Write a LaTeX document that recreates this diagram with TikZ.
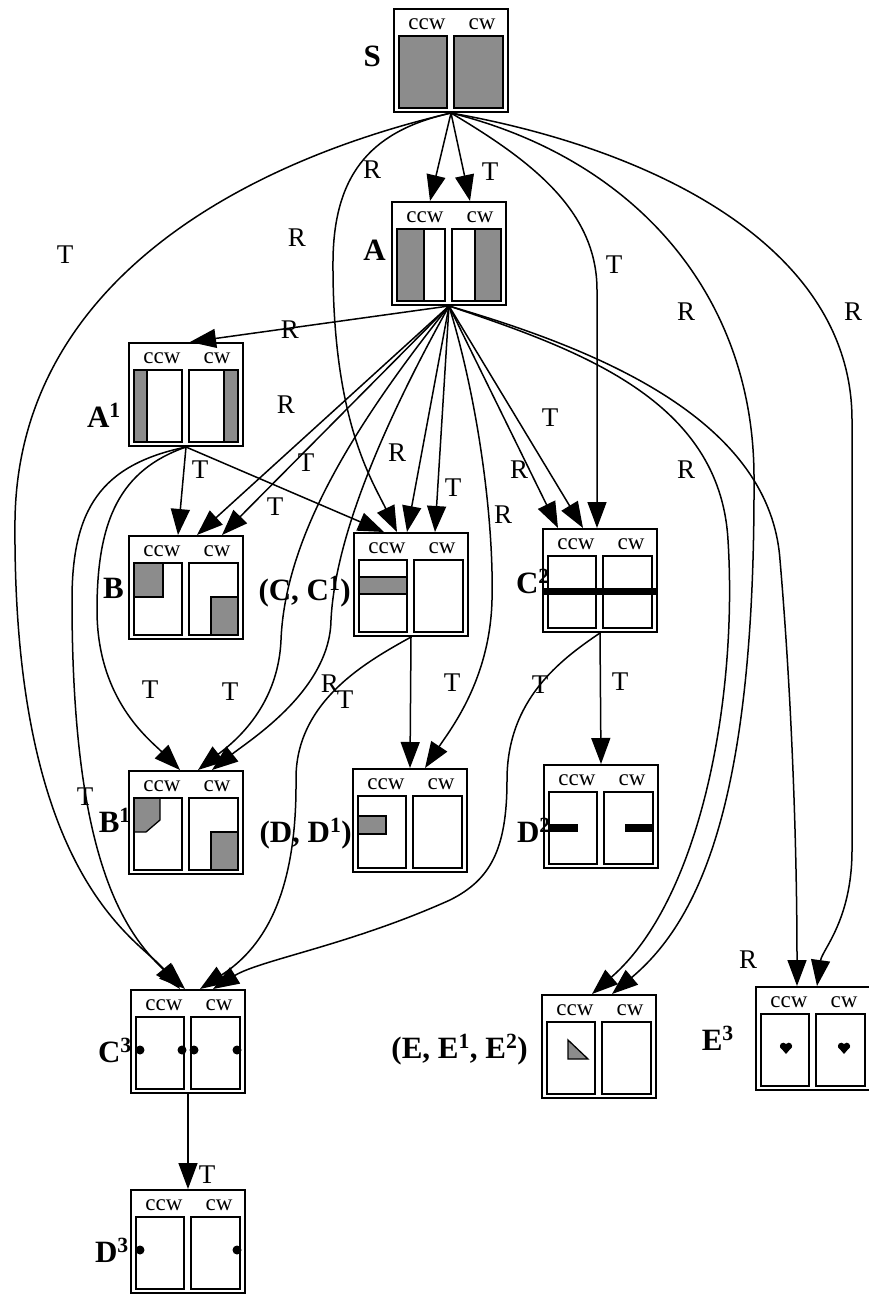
\documentclass[tikz,border=0pt]{standalone}
\usepackage{fontspec}
\setmainfont{Liberation Serif}
\usetikzlibrary{arrows.meta, calc}

\tikzset{
  sbox/.style={draw, line width=2pt, minimum width=114pt, minimum height=103pt, inner sep=0pt},
  panel/.style={draw, line width=1.8pt},
  grayfill/.style={fill=black!45, draw, line width=1.3pt},
  celltxt/.style={font=\fontsize{23}{23}\selectfont, inner sep=0pt},
  lab/.style={font=\fontsize{31}{31}\selectfont\bfseries, inner sep=0pt, anchor=base east},
  elab/.style={font=\fontsize{27}{27}\selectfont, inner sep=0pt},
  trans/.style={-{Triangle[length=26pt,width=19pt]}, line width=1.5pt}
}

% one state: name, left, top, contents
\newcommand{\statebox}[4]{%
  \begin{scope}[shift={(#2,#3)}]
    \node[sbox] (#1) at (57,51.5) {};
    \node[celltxt] (#1-ccw) at (33,15) {ccw};
    \node[celltxt] (#1-cw) at (88,15) {cw};
    #4
    \draw[panel] (5,27) rectangle (53,99);
    \draw[panel] (60,27) rectangle (109,99);
  \end{scope}}
\newcommand{\heartmark}[2]{%
  \fill (#1-2.8,#2-2) circle (3.3pt);
  \fill (#1+2.8,#2-2) circle (3.3pt);
  \fill (#1-6,#2-1) -- (#1+6,#2-1) -- (#1,#2+6) -- cycle;}

\begin{document}
\begin{tikzpicture}[x=1pt, y=-1pt]
\useasboundingbox (0,0) rectangle (869,1295);

% states
\statebox{S}{394}{9}{%
  \filldraw[grayfill] (5,27) rectangle (53,99);
  \filldraw[grayfill] (60,27) rectangle (109,99);}
\statebox{A}{392}{202}{%
  \filldraw[grayfill] (5,27) rectangle (32,99);
  \filldraw[grayfill] (83,27) rectangle (109,99);}
\statebox{A1}{129}{343}{%
  \filldraw[grayfill] (5,27) rectangle (18,99);
  \filldraw[grayfill] (95,27) rectangle (109,99);}
\statebox{B}{129}{536}{%
  \filldraw[grayfill] (5,27) rectangle (34,61);
  \filldraw[grayfill] (82,61) rectangle (109,99);}
\statebox{C}{354}{533}{%
  \filldraw[grayfill] (5,44) rectangle (53,61);}
\statebox{C2}{543}{529}{%
  \fill (1,59) rectangle (115,66);}
\statebox{B1}{129}{771}{%
  \filldraw[grayfill] (5,27) -- (31,27) -- (31,49) -- (17,61) -- (5,61) -- cycle;
  \filldraw[grayfill] (82,61) rectangle (109,99);}
\statebox{D}{353}{769}{%
  \filldraw[grayfill] (5,47) rectangle (33,65);}
\statebox{D2}{544}{765}{%
  \fill (5,59) rectangle (34,67);
  \fill (81,59) rectangle (109,67);}
\statebox{C3}{131}{990}{%
  \fill (9,60) circle (4.5pt); \fill (51,60) circle (4.5pt);
  \fill (63,60) circle (4.5pt); \fill (106,60) circle (4.5pt);}
\statebox{E}{542}{995}{%
  \filldraw[grayfill] (26,45) -- (26,64) -- (46,64) -- cycle;}
\statebox{E3}{756}{987}{\heartmark{30}{61}\heartmark{88}{61}}
\statebox{D3}{131}{1190}{%
  \fill (9,60) circle (4.5pt); \fill (106,60) circle (4.5pt);}

% state names
\node[lab] (lS) at (381,67) {S};
\node[lab] (lA) at (386,260) {A};
\node[lab] (lA1) at (121,427) {A\textsuperscript{1}};
\node[lab] (lB) at (124,598) {B};
\node[lab] (lC) at (351,600) {(C, C\textsuperscript{1})};
\node[lab] (lC2) at (550,593) {C\textsuperscript{2}};
\node[lab] (lB1) at (131,832) {B\textsuperscript{1}};
\node[lab] (lD) at (352,842) {(D, D\textsuperscript{1})};
\node[lab] (lD2) at (551,842) {D\textsuperscript{2}};
\node[lab] (lC3) at (132,1062) {C\textsuperscript{3}};
\node[lab] (lE) at (528,1058) {(E, E\textsuperscript{1}, E\textsuperscript{2})};
\node[lab] (lE3) at (734,1050) {E\textsuperscript{3}};
\node[lab] (lD3) at (129,1262) {D\textsuperscript{3}};

% transitions from S
\draw[trans] (S.south) -- ($(A.north)+(-19,0)$) node[elab] at (372,170) {R};
\draw[trans] (S.south) -- ($(A.north)+(21,0)$) node[elab] at (490,172) {T};
\draw[trans] (S.south) .. controls (230,165) and (18,290) .. (15,520)
  .. controls (12,880) and (140,940) .. ($(C3.north)+(-8,0)$) node[elab] at (65,255) {T};
\draw[trans] (S.south) .. controls (375,130) and (334,170) .. (333,260)
  .. controls (332,420) and (372,480) .. ($(C.north)+(-14,0)$) node[elab] at (297,238) {R};
\draw[trans] (S.south) .. controls (530,160) and (597,210) .. (597,290)
  -- ($(C2.north)+(-3,0)$) node[elab] at (614,265) {T};
\draw[trans] (S.south) .. controls (640,160) and (755,300) .. (754,480)
  .. controls (755,800) and (700,920) .. ($(E.north)+(13,0)$) node[elab] at (686,312) {R};
\draw[trans] (S.south) .. controls (660,150) and (852,250) .. (852,420) -- (852,850)
  .. controls (852,920) and (822,950) .. ($(E3.north)+(4,0)$) node[elab] at (853,312) {R};

% transitions from A
\draw[trans] (A.south) -- ($(A1.north)+(4,0)$) node[elab] at (290,330) {R};
\draw[trans] (A.south) -- ($(B.north)+(11,0)$) node[elab] at (306,463) {T};
\draw[trans] (A.south) -- ($(B.north)+(36,0)$) node[elab] at (275,507) {T};
\draw[trans] (A.south) -- ($(C.north)+(-4,0)$) node[elab] at (397,453) {R};
\draw[trans] (A.south) -- ($(C.north)+(24,0)$) node[elab] at (453,488) {T};
\draw[trans] (A.south) -- ($(C2.north)+(-42,0)$) node[elab] at (519,470) {R};
\draw[trans] (A.south) -- ($(C2.north)+(-17,0)$) node[elab] at (550,418) {T};
\draw[trans] (A.south) .. controls (478,400) and (494,520) .. (492,600)
  .. controls (490,680) and (450,730) .. ($(D.north)+(15,0)$) node[elab] at (503,515) {R};
\draw[trans] (A.south) .. controls (580,350) and (720,400) .. (728,540)
  .. controls (738,700) and (700,900) .. ($(E.north)+(-7,0)$) node[elab] at (686,470) {R};
\draw[trans] (A.south) .. controls (600,350) and (770,420) .. (780,560)
  .. controls (792,700) and (797,850) .. ($(E3.north)+(-16,0)$) node[elab] at (748,960) {R};
\draw[trans] (A.south) .. controls (350,430) and (285,540) .. (281,640)
  .. controls (278,710) and (230,745) .. ($(B1.north)+(12,0)$) node[elab] at (230,692) {T};
\draw[trans] (A.south) .. controls (380,430) and (335,540) .. (331,620)
  .. controls (330,690) and (250,740) .. ($(B1.north)+(26,0)$) node[elab] at (330,684) {R};

% transitions from A1
\draw[trans] (A1.south) -- ($(B.north)+(-8,0)$) node[elab] at (200,470) {T};
\draw[trans] (A1.south) -- ($(C.north)+(-27,0)$) node[elab] at (286,405) {R};
\draw[trans] (A1.south) .. controls (120,470) and (97,520) .. (97,610)
  .. controls (97,700) and (150,740) .. ($(B1.north)+(-6,0)$) node[elab] at (150,690) {T};
\draw[trans] (A1.south) .. controls (100,465) and (72,510) .. (72,600)
  .. controls (72,850) and (120,930) .. ($(C3.north)+(-3,0)$) node[elab] at (85,797) {T};

% transitions from C and C2
\draw[trans] (C.south) -- (D.north) node[elab] at (452,683) {T};
\draw[trans] (C.south) .. controls (370,660) and (295,700) .. (296,780)
  .. controls (297,900) and (260,950) .. ($(C3.north)+(12,0)$) node[elab] at (345,700) {T};
\draw[trans] (C2.south) -- (D2.north) node[elab] at (620,682) {T};
\draw[trans] (C2.south) .. controls (560,660) and (507,700) .. (507,780)
  .. controls (507,850) and (490,880) .. (450,900)
  .. controls (350,945) and (260,960) .. ($(C3.north)+(25,0)$) node[elab] at (540,685) {T};

% from C3
\draw[trans] (C3.south) -- (D3.north) node[elab] at (207,1175) {T};
\end{tikzpicture}
\end{document}
